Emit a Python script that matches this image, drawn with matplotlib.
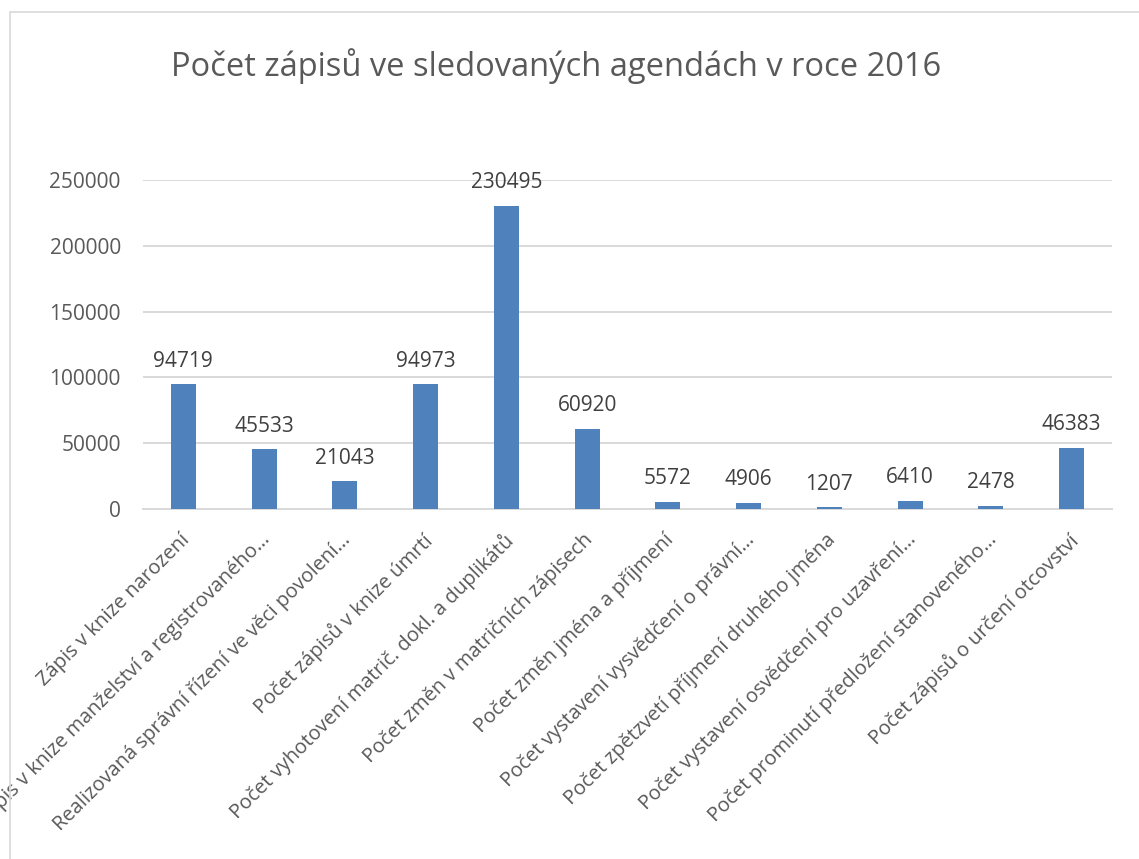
import matplotlib.pyplot as plt
from matplotlib.patches import Rectangle
from matplotlib.transforms import ScaledTranslation

# Categories (as shown, truncated labels kept as in the chart)
CATEGORIES = [
    "Zápis v knize narození",
    "Zápis v knize manželství a registrovaného…",
    "Realizovaná správní řízení ve věci povolení…",
    "Počet zápisů v knize úmrtí",
    "Počet vyhotovení matrič. dokl. a duplikátů",
    "Počet změn v matričních zápisech",
    "Počet změn jména a příjmení",
    "Počet vystavení vysvědčení o právní…",
    "Počet zpětzvetí příjmení druhého jména",
    "Počet vystavení osvědčení pro uzavření…",
    "Počet prominutí předložení stanoveného…",
    "Počet zápisů o určení otcovství",
]
VALUES = [94719, 45533, 21043, 94973, 230495, 60920, 5572, 4906, 1207, 6410, 2478, 46383]
Y_TICKS = [0, 50000, 100000, 150000, 200000, 250000]

TITLE = "Počet zápisů ve sledovaných agendách v roce 2016"

BAR_COLOR = "#4F81BD"
TEXT_COLOR = "#595959"
GRID_COLOR = "#D9D9D9"

plt.rcParams['font.family'] = ['Open Sans', 'DejaVu Sans']

fig = plt.figure(figsize=(11.39, 8.59), dpi=100)
W, H = 1139, 859

# chart frame
fig.patches.append(Rectangle((10 / W, -0.1), 1.2, (H - 12) / H + 0.1,
                             transform=fig.transFigure, fill=False,
                             edgecolor="#D9D9D9", linewidth=1.2))

ax = fig.add_axes([143 / W, 1 - 509 / H, (1112 - 143) / W, (509 - 180) / H])

x = list(range(len(CATEGORIES)))
bars = ax.bar(x, VALUES, width=0.31, color=BAR_COLOR, zorder=3)

ax.set_xlim(-0.5, len(CATEGORIES) - 0.5)
ax.set_ylim(0, 250000)
ax.set_yticks(Y_TICKS)
ax.set_yticklabels([str(v) for v in Y_TICKS])
ax.yaxis.grid(True, color=GRID_COLOR, linewidth=1.4, zorder=0)

for s in ['top', 'right', 'left']:
    ax.spines[s].set_visible(False)
ax.spines['bottom'].set_color(GRID_COLOR)
ax.spines['bottom'].set_linewidth(1.4)

ax.tick_params(axis='y', length=0, pad=16, labelsize=15, labelcolor=TEXT_COLOR)
ax.tick_params(axis='x', length=0, pad=15, labelsize=14.5, labelcolor=TEXT_COLOR)

ax.set_xticks(x)
ax.set_xticklabels(CATEGORIES, rotation=45, ha='right', rotation_mode='anchor')
shift = ScaledTranslation(-4 / 100, 0, fig.dpi_scale_trans)
for lbl in ax.get_xticklabels():
    lbl.set_transform(lbl.get_transform() + shift)

# data labels
for rect, v in zip(bars, VALUES):
    ax.annotate(str(v), (rect.get_x() + rect.get_width() / 2, v),
                xytext=(0, 9), textcoords='offset points',
                ha='center', va='bottom', fontsize=15, color="#404040")

fig.text(556 / W, 1 - 66 / H, TITLE, ha='center', va='center',
         fontsize=23.5, color=TEXT_COLOR)

fig.savefig("out.png", dpi=100)
